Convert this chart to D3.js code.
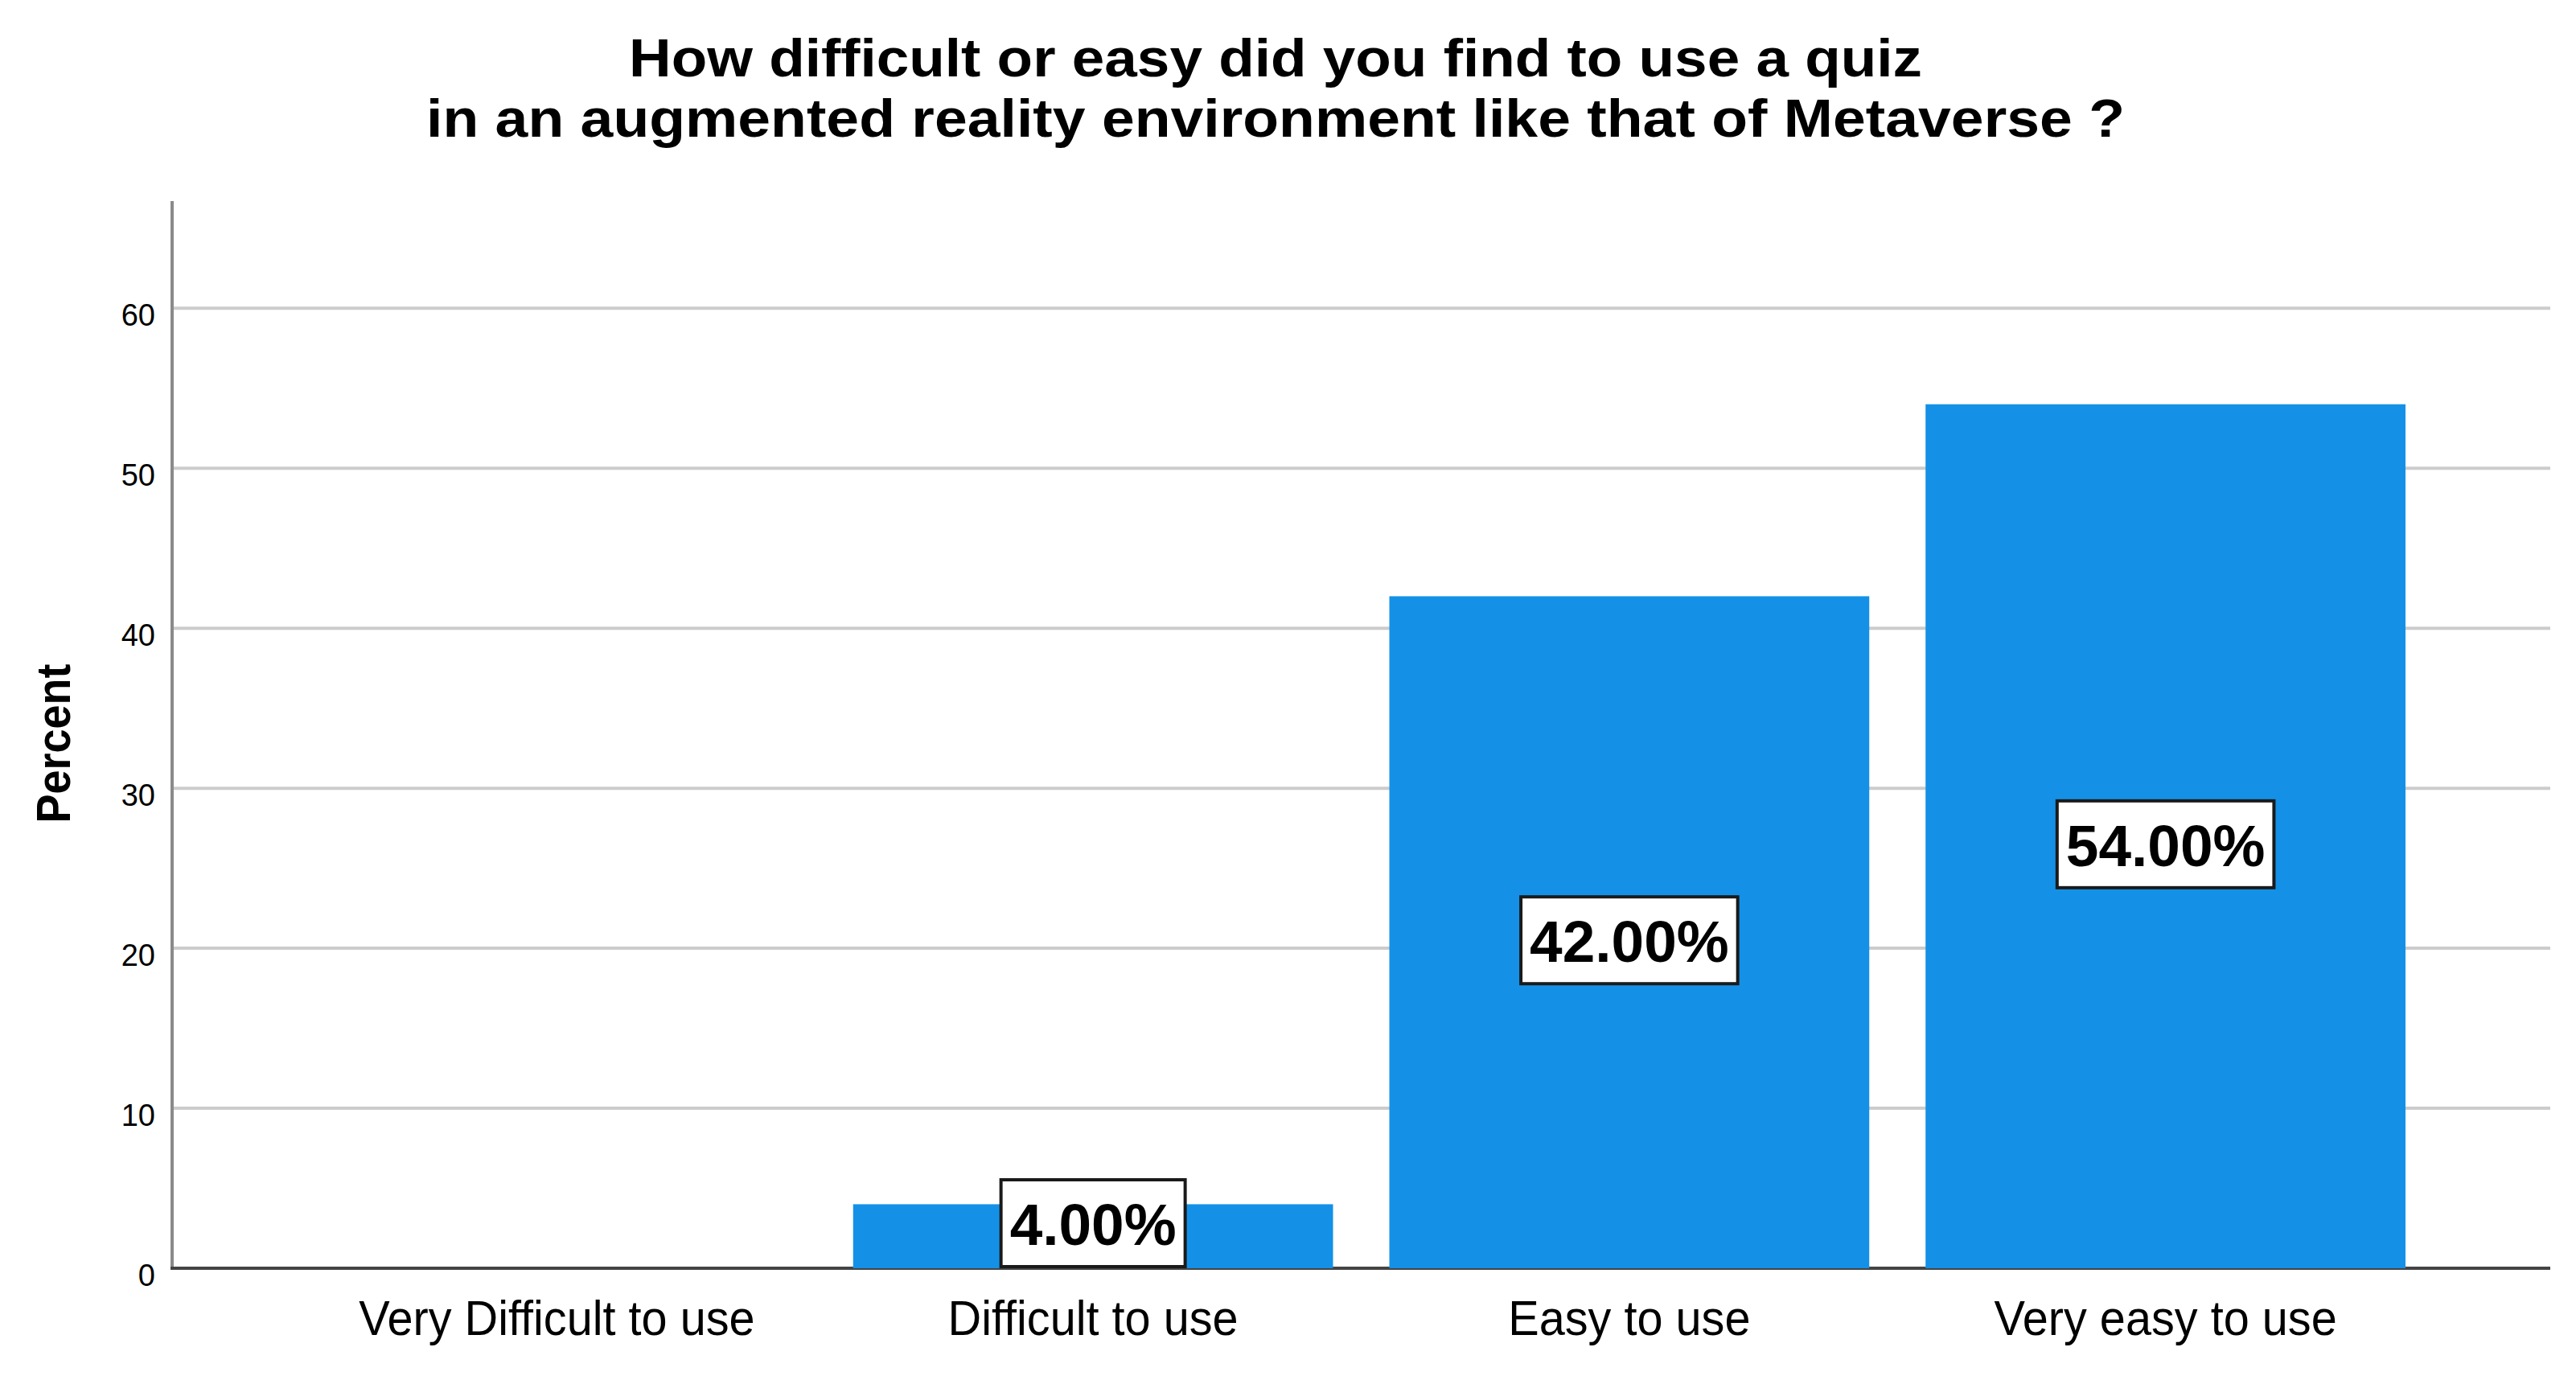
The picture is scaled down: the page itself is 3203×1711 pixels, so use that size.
<!DOCTYPE html>
<html>
<head>
<meta charset="utf-8">
<script src="https://cdn.jsdelivr.net/npm/d3@7"></script>
<style>
  html, body { margin: 0; padding: 0; background: #ffffff; }
  svg { display: block; }
</style>
</head>
<body>
<svg id="chart" width="3203" height="1711"></svg>
<script>
// ---------------- data ----------------
const titleLines = [
  "How difficult or easy did you find to use a quiz",
  "in an augmented reality environment like that of Metaverse ?"
];
const categories = ["Very Difficult to use", "Difficult to use", "Easy to use", "Very easy to use"];
const percentValues = [0, 4, 42, 54];
const yTicks = [0, 10, 20, 30, 40, 50, 60];
const yAxisLabel = "Percent";

// ---------------- layout / style ----------------
const W = 3203, H = 1711;
const plot = { left: 214, right: 3171, top: 250, bottom: 1577 };
const yMax = 66.7;
const barColor = "#1491E6";
const gridColor = "#cccccc";
const fontFamily = "'Liberation Sans', Arial, sans-serif";

const svg = d3.select("#chart");
svg.append("rect").attr("width", W).attr("height", H).attr("fill", "#ffffff");

const x = d3.scaleBand()
  .domain(categories)
  .range([plot.left, plot.right])
  .paddingInner(0.105)
  .paddingOuter(0.27);

const y = d3.scaleLinear()
  .domain([0, yMax])
  .range([plot.bottom, plot.top]);

// gridlines
svg.append("g")
  .selectAll("line")
  .data(yTicks.filter(t => t > 0))
  .join("line")
  .attr("x1", plot.left).attr("x2", plot.right)
  .attr("y1", d => y(d)).attr("y2", d => y(d))
  .attr("stroke", gridColor)
  .attr("stroke-width", 4);

// y axis (labels only, via d3 axis)
const yAxis = d3.axisLeft(y).tickValues(yTicks).tickSize(0).tickPadding(21).tickFormat(d3.format("d"));
const gy = svg.append("g").attr("transform", `translate(${plot.left},0)`).call(yAxis);
gy.select(".domain").remove();
gy.selectAll("text")
  .attr("font-family", fontFamily)
  .attr("font-size", 38)
  .attr("fill", "#000")
  .attr("dy", "0.9em")
  .attr("y", -13);

// y axis line
svg.append("line")
  .attr("x1", plot.left).attr("x2", plot.left)
  .attr("y1", plot.top).attr("y2", plot.bottom)
  .attr("stroke", "#8a8a8a").attr("stroke-width", 4);

// x baseline
svg.append("line")
  .attr("x1", plot.left - 2).attr("x2", plot.right)
  .attr("y1", y(0)).attr("y2", y(0))
  .attr("stroke", "#444444").attr("stroke-width", 4);

// bars
const data = categories.map((c, i) => ({ cat: c, value: percentValues[i] }));
svg.append("g")
  .selectAll("rect")
  .data(data)
  .join("rect")
  .attr("x", d => x(d.cat))
  .attr("width", x.bandwidth())
  .attr("y", d => y(d.value))
  .attr("height", d => y(0) - y(d.value))
  .attr("fill", barColor);

// x category labels
const xAxis = d3.axisBottom(x).tickSize(0).tickPadding(0);
const gx = svg.append("g").attr("transform", `translate(0,${y(0)})`).call(xAxis);
gx.select(".domain").remove();
gx.selectAll("text")
  .attr("font-family", fontFamily)
  .attr("font-size", 62)
  .attr("fill", "#000")
  .attr("dy", 0)
  .attr("y", 83)
  .each(function () {
    const w = this.getComputedTextLength();
    d3.select(this).attr("textLength", w * 0.93).attr("lengthAdjust", "spacingAndGlyphs");
  });

// value labels with boxes
const fmt = d => d3.format(".2f")(d) + "%";
const labelG = svg.append("g");
data.filter(d => d.value > 0).forEach(d => {
  const cx = x(d.cat) + x.bandwidth() / 2;
  const g = labelG.append("g");
  const t = g.append("text")
    .attr("font-family", fontFamily)
    .attr("font-weight", "bold")
    .attr("font-size", 73)
    .attr("fill", "#000")
    .attr("text-anchor", "middle")
    .text(fmt(d.value));
  const tw = t.node().getComputedTextLength();
  const boxW = tw + 22, boxH = 108;
  let cy = (y(d.value) + y(0)) / 2 + 10;
  if (cy + boxH / 2 > y(0) - 2) cy = y(0) - 2 - boxH / 2;
  g.insert("rect", "text")
    .attr("x", cx - boxW / 2)
    .attr("y", cy - boxH / 2)
    .attr("width", boxW)
    .attr("height", boxH)
    .attr("fill", "#ffffff")
    .attr("stroke", "#1a1a1a")
    .attr("stroke-width", 4);
  t.attr("x", cx).attr("y", cy - boxH / 2 + 81);
});

// y axis title
svg.append("text")
  .attr("transform", `translate(87, ${(plot.top + plot.bottom) / 2 + 11}) rotate(-90)`)
  .attr("font-family", fontFamily)
  .attr("font-weight", "bold")
  .attr("font-size", 60)
  .attr("text-anchor", "middle")
  .attr("textLength", 198)
  .attr("lengthAdjust", "spacingAndGlyphs")
  .attr("fill", "#000")
  .text(yAxisLabel);

// title
const titleWidths = [1608, 2112];
const titleBaselines = [95, 170];
svg.append("g")
  .selectAll("text")
  .data(titleLines)
  .join("text")
  .attr("x", 1586)
  .attr("y", (d, i) => titleBaselines[i])
  .attr("font-family", fontFamily)
  .attr("font-weight", "bold")
  .attr("font-size", 67)
  .attr("text-anchor", "middle")
  .attr("fill", "#000")
  .attr("textLength", (d, i) => titleWidths[i])
  .attr("lengthAdjust", "spacingAndGlyphs")
  .text(d => d);
</script>
</body>
</html>
